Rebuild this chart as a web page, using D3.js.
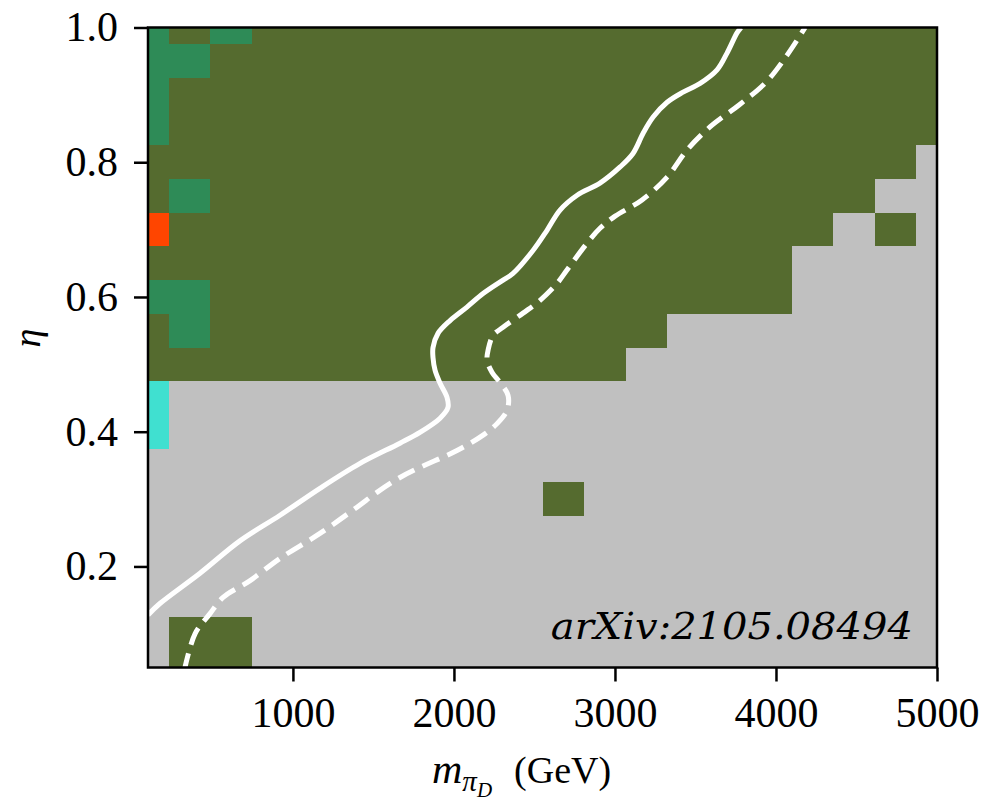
<!DOCTYPE html>
<html>
<head>
<meta charset="utf-8">
<script src="https://cdn.jsdelivr.net/npm/d3@7"></script>
<style>
  body { margin: 0; background: #fff; }
  text { font-family: "Liberation Serif", serif; }
</style>
</head>
<body>
<div id="chart"></div>
<script>
'use strict';

// grid centres (GeV / eta)
var massCentres = [100, 357.9, 615.8, 873.7, 1131.6, 1389.5, 1647.4, 1905.3, 2163.2, 2421.1,
  2678.9, 2936.8, 3194.7, 3452.6, 3710.5, 3968.4, 4226.3, 4484.2, 4742.1, 5000];
var etaCentres = [0.05, 0.10, 0.15, 0.20, 0.25, 0.30, 0.35, 0.40, 0.45, 0.50,
  0.55, 0.60, 0.65, 0.70, 0.75, 0.80, 0.85, 0.90, 0.95, 1.00];

// cell class per row, top row (eta = 1.0) first, one char per mass column
// G excluded, S / O / T other classes, . allowed
var cellRows = [
  'SGSGGGGGGGGGGGGGGGGG',
  'SSGGGGGGGGGGGGGGGGGG',
  'SGGGGGGGGGGGGGGGGGGG',
  'SGGGGGGGGGGGGGGGGGGG',
  'GGGGGGGGGGGGGGGGGGG.',
  'GSGGGGGGGGGGGGGGGG..',
  'OGGGGGGGGGGGGGGGG.G.',
  'GGGGGGGGGGGGGGGG....',
  'SSGGGGGGGGGGGGGG....',
  'GSGGGGGGGGGGG.......',
  'GGGGGGGGGGGG........',
  'T...................',
  'T...................',
  '....................',
  '..........G.........',
  '....................',
  '....................',
  '....................',
  '.GG.................',
  '.GG.................'
];
var cellColors = { 'G': '#556b2f', 'S': '#2e8b57', 'O': '#ff4500', 'T': '#40e0d0', '.': '#c0c0c0' };

// solid contour
var massSolid = [100, 174, 423, 671, 920, 1168, 1417, 1665, 1789, 1914, 1963, 1957, 1914, 1883, 1870, 1870,
  1901, 1976, 2081, 2181, 2305, 2367, 2491, 2578, 2659, 2765, 2907, 3032, 3112, 3175, 3237, 3324, 3423,
  3529, 3634, 3696, 3758, 3783];
var etaSolid = [0.128, 0.145, 0.190, 0.238, 0.276, 0.316, 0.353, 0.383, 0.399, 0.420, 0.436, 0.451, 0.472,
  0.491, 0.510, 0.525, 0.546, 0.565, 0.585, 0.605, 0.625, 0.635, 0.669, 0.699, 0.729, 0.751, 0.769, 0.793,
  0.813, 0.843, 0.867, 0.889, 0.904, 0.917, 0.937, 0.962, 0.992, 1.0];

// dashed contour
var massDashed = [325, 392, 485, 566, 734, 920, 1168, 1398, 1522, 1665, 1789, 2019, 2181, 2268, 2330, 2336,
  2286, 2237, 2206, 2212, 2243, 2305, 2429, 2535, 2640, 2702, 2827, 2907, 3001, 3168, 3324, 3454, 3603,
  3771, 3939, 4069, 4181];
var etaDashed = [0.045, 0.100, 0.130, 0.154, 0.179, 0.212, 0.249, 0.288, 0.310, 0.332, 0.347, 0.372, 0.395,
  0.412, 0.432, 0.454, 0.473, 0.488, 0.506, 0.521, 0.543, 0.555, 0.576, 0.595, 0.620, 0.640, 0.680, 0.702,
  0.720, 0.744, 0.778, 0.820, 0.855, 0.885, 0.919, 0.959, 1.0];

var massTicks = [1000, 2000, 3000, 4000, 5000];
var etaTicks = [0.2, 0.4, 0.6, 0.8, 1.0];

var W = 987, H = 803;
var margin = { top: 27.5, right: 50, bottom: 135.5, left: 148 };
var w = W - margin.left - margin.right, h = H - margin.top - margin.bottom;

var x = d3.scaleLinear().domain([100, 5000]).range([0, w]);
var y = d3.scaleLinear().domain([0.05, 1.0]).range([h, 0]);

var svg = d3.select('#chart').append('svg').attr('width', W).attr('height', H);
var g = svg.append('g').attr('transform', 'translate(' + margin.left + ',' + margin.top + ')');

svg.append('defs').append('clipPath').attr('id', 'plotclip')
  .append('rect').attr('width', w).attr('height', h);

function edges(c, lo, hi) {
  return c.map(function (v, i) {
    var a = i === 0 ? lo : (c[i - 1] + v) / 2;
    var b = i === c.length - 1 ? hi : (v + c[i + 1]) / 2;
    return [a, b];
  });
}
var mEdges = edges(massCentres, 100, 5000);
var eEdges = edges(etaCentres, 0.05, 1.0);

var cells = [];
cellRows.forEach(function (row, r) {
  var ei = etaCentres.length - 1 - r;
  row.split('').forEach(function (ch, mi) {
    cells.push({ m: mEdges[mi], e: eEdges[ei], c: cellColors[ch] });
  });
});

var plot = g.append('g').attr('clip-path', 'url(#plotclip)');

plot.selectAll('rect.cell').data(cells).enter().append('rect')
  .attr('class', 'cell')
  .attr('x', function (d) { return x(d.m[0]); })
  .attr('y', function (d) { return y(d.e[1]); })
  .attr('width', function (d) { return x(d.m[1]) - x(d.m[0]) + 0.5; })
  .attr('height', function (d) { return y(d.e[0]) - y(d.e[1]) + 0.5; })
  .attr('fill', function (d) { return d.c; })
  .attr('shape-rendering', 'crispEdges');

var line = d3.line()
  .x(function (d) { return x(d[0]); })
  .y(function (d) { return y(d[1]); })
  .curve(d3.curveCatmullRom.alpha(0.5));

plot.append('path')
  .datum(d3.zip(massSolid, etaSolid))
  .attr('d', line)
  .attr('fill', 'none').attr('stroke', '#fff').attr('stroke-width', 5);

plot.append('path')
  .datum(d3.zip(massDashed, etaDashed))
  .attr('d', line)
  .attr('fill', 'none').attr('stroke', '#fff').attr('stroke-width', 5)
  .attr('stroke-dasharray', '18,9');

// axes
var xAxis = g.append('g').attr('transform', 'translate(0,' + h + ')')
  .call(d3.axisBottom(x).tickValues(massTicks).tickFormat(d3.format('d'))
    .tickSize(14).tickSizeOuter(0).tickPadding(16));
var yAxis = g.append('g')
  .call(d3.axisLeft(y).tickValues(etaTicks).tickFormat(d3.format('.1f'))
    .tickSize(14).tickSizeOuter(0).tickPadding(16));

[xAxis, yAxis].forEach(function (a) {
  a.select('.domain').remove();
  a.selectAll('line').attr('stroke', '#000').attr('stroke-width', 2.5);
  a.selectAll('text').attr('fill', '#000').style('font-size', '42px')
    .style('font-family', '"Liberation Serif", serif');
});

g.append('rect').attr('width', w).attr('height', h)
  .attr('fill', 'none').attr('stroke', '#000').attr('stroke-width', 2.5);

// annotation
g.append('text')
  .attr('x', x(4850)).attr('y', y(0.092))
  .attr('text-anchor', 'end')
  .attr('textLength', 362).attr('lengthAdjust', 'spacingAndGlyphs')
  .style('font-family', '"DejaVu Serif", serif')
  .style('font-style', 'italic')
  .style('font-size', '37px')
  .attr('fill', '#000')
  .text('arXiv:2105.08494');

// axis labels
var xl = svg.append('text')
  .attr('x', 432).attr('y', 783)
  .attr('text-anchor', 'start')
  .style('font-size', '38px');
xl.append('tspan').style('font-style', 'italic').style('font-size', '42px').text('m');
xl.append('tspan').attr('dy', 8).style('font-size', '29px').style('font-style', 'italic').text('π');
xl.append('tspan').attr('dy', 6).style('font-size', '21px').style('font-style', 'italic').text('D');
xl.append('tspan').attr('dy', -14).attr('dx', 22).text('(GeV)');

svg.append('text')
  .attr('transform', 'translate(40,338) rotate(-90)')
  .attr('text-anchor', 'middle')
  .style('font-size', '38px').style('font-style', 'italic')
  .text('η');
</script>
</body>
</html>
